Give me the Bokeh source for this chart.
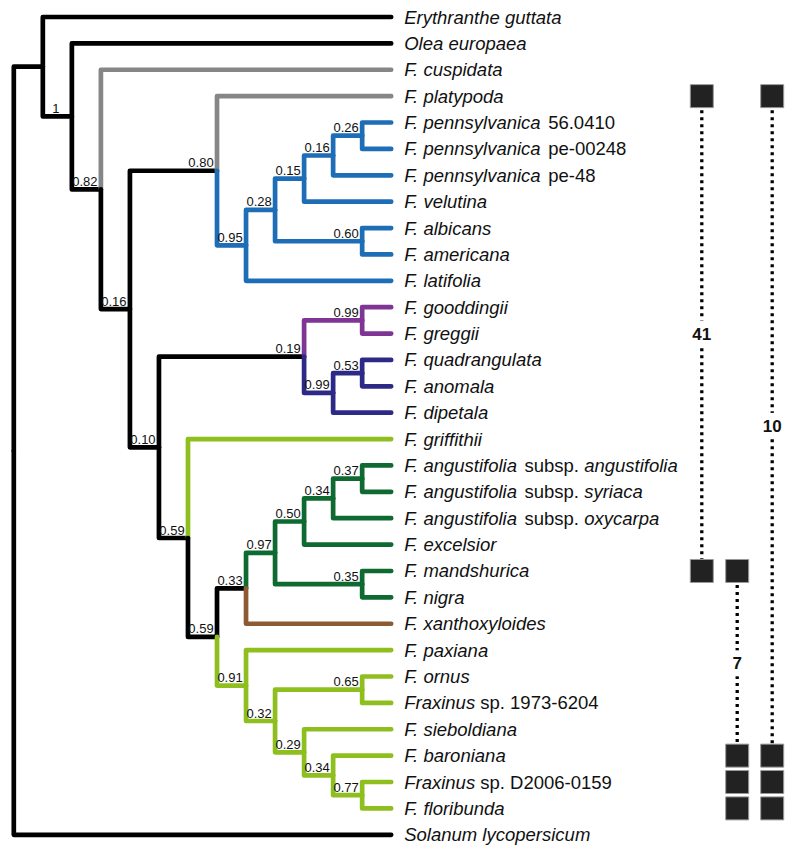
from bokeh.plotting import figure
from bokeh.models import Range1d, ColumnDataSource
from bokeh.embed import file_html
from bokeh.resources import INLINE
from bokeh.core.properties import value

# ---------------- data ----------------
leaf_labels = [
    [("Erythranthe guttata", True)],
    [("Olea europaea", True)],
    [("F. cuspidata", True)],
    [("F. platypoda", True)],
    [("F. pennsylvanica", True), (" 56.0410", False)],
    [("F. pennsylvanica", True), (" pe-00248", False)],
    [("F. pennsylvanica", True), (" pe-48", False)],
    [("F. velutina", True)],
    [("F. albicans", True)],
    [("F. americana", True)],
    [("F. latifolia", True)],
    [("F. gooddingii", True)],
    [("F. greggii", True)],
    [("F. quadrangulata", True)],
    [("F. anomala", True)],
    [("F. dipetala", True)],
    [("F. griffithii", True)],
    [("F. angustifolia", True), (" subsp. ", False), ("angustifolia", True)],
    [("F. angustifolia", True), (" subsp. ", False), ("syriaca", True)],
    [("F. angustifolia", True), (" subsp. ", False), ("oxycarpa", True)],
    [("F. excelsior", True)],
    [("F. mandshurica", True)],
    [("F. nigra", True)],
    [("F. xanthoxyloides", True)],
    [("F. paxiana", True)],
    [("F. ornus", True)],
    [("Fraxinus", True), (" sp. 1973-6204", False)],
    [("F. sieboldiana", True)],
    [("F. baroniana", True)],
    [("Fraxinus", True), (" sp. D2006-0159", False)],
    [("F. floribunda", True)],
    [("Solanum lycopersicum", True)],
]

# internal nodes: (name, first child, second child, support); ints are leaf indices
internal_nodes = [
    ("root", "A", 31, None),
    ("A", 0, "B", None),
    ("B", 1, "C", "1"),
    ("C", 2, "D", "0.82"),
    ("D", "E", "F", "0.16"),
    ("E", 3, "G", "0.80"),
    ("G", "H", 10, "0.95"),
    ("H", "I", "J", "0.28"),
    ("I", "K", 7, "0.15"),
    ("K", "L", 6, "0.16"),
    ("L", 4, 5, "0.26"),
    ("J", 8, 9, "0.60"),
    ("F", "M", "N", "0.10"),
    ("M", "O", "P", "0.19"),
    ("O", 11, 12, "0.99"),
    ("P", "Q", 15, "0.99"),
    ("Q", 13, 14, "0.53"),
    ("N", 16, "R", "0.59"),
    ("R", "S", "T", "0.59"),
    ("S", "U", 23, "0.33"),
    ("U", "V", "W", "0.97"),
    ("V", "X", 20, "0.50"),
    ("X", "Y", 19, "0.34"),
    ("Y", 17, 18, "0.37"),
    ("W", 21, 22, "0.35"),
    ("T", 24, "Z", "0.91"),
    ("Z", "AA", "BB", "0.32"),
    ("AA", 25, 26, "0.65"),
    ("BB", 27, "CC", "0.29"),
    ("CC", 28, "DD", "0.34"),
    ("DD", 29, 30, "0.77"),
]

BLACK = "#000000"
GRAY = "#868686"
BLUE = "#1e6db7"
PURPLE = "#7e3594"
INDIGO = "#2c2a86"
LTGREEN = "#8fbe1f"
DKGREEN = "#0f6a31"
BROWN = "#8c5a33"

clade_colors = {
    2: GRAY, 3: GRAY, "G": BLUE, "O": PURPLE, "P": INDIGO,
    16: LTGREEN, "U": DKGREEN, 23: BROWN, "T": LTGREEN,
}

# character-state bars
count_labels = ["41", "7", "10"]
bar_from = [3, 21, 3]
bar_to = [21, 28, 28]
bar_squares = [[3, 21], [21, 28, 29, 30], [3, 28, 29, 30]]

# ---------------- layout ----------------
W, H = 792, 850
PX_X = 29.03          # px per tree level
PX_Y = 26.38          # px per leaf row
ROOT_PX = 13.3
TOP_PX = 16.5
COL_PX = [701.3, 736.7, 771.7]
LEAF_FS = 18.5
SUP_FS = 13

children = {n: (a, b) for n, a, b, s in internal_nodes}
parent = {}
for n, a, b, s in internal_nodes:
    parent[a] = n
    parent[b] = n

height = {}
ypos = {}


def calc(n):
    if isinstance(n, int):
        height[n] = 0
        ypos[n] = float(n)
        return
    a, b = children[n]
    calc(a)
    calc(b)
    height[n] = 1 + max(height[a], height[b])
    ypos[n] = (ypos[a] + ypos[b]) / 2.0


calc("root")
MAXH = height["root"]
xpos = {n: MAXH - h for n, h in height.items()}

color = {}
order = []


def walk(n, col):
    col = clade_colors.get(n, col)
    color[n] = col
    order.append(n)
    if not isinstance(n, int):
        for c in children[n]:
            walk(c, col)


walk("root", BLACK)

xs, ys, cs = [], [], []
for n in order:
    if n == "root":
        continue
    pn = parent[n]
    xs.append([xpos[pn], xpos[pn], xpos[n]])
    ys.append([ypos[pn], ypos[n], ypos[n]])
    cs.append(color[n])

x0 = -ROOT_PX / PX_X
y0 = -TOP_PX / PX_Y
p = figure(width=W, height=H,
           x_range=Range1d(x0, x0 + W / PX_X),
           y_range=Range1d(y0 + H / PX_Y, y0),
           output_backend="svg", toolbar_location=None,
           x_axis_location=None, y_axis_location=None,
           min_border=0)
p.grid.visible = False
p.outline_line_color = None
p.background_fill_color = "white"
p.border_fill_color = "white"

p.multi_line(xs=xs, ys=ys, line_color=cs, line_width=4.7,
             line_join="round", line_cap="round")

# support values
sx, sy, st = [], [], []
for n, a, b, s in internal_nodes:
    if s is not None:
        sx.append(xpos[n]); sy.append(ypos[n]); st.append(s)
p.text(x=sx, y=sy, text=st, text_font=value("Liberation Sans"),
       text_font_size=f"{SUP_FS}px", text_align="center",
       text_baseline="middle", x_offset=-16, y_offset=-8,
       text_color="#111111")

# leaf labels with mixed italic / upright segments
WID = {' ': 278, '.': 278, '-': 333}
for d in "0123456789":
    WID[d] = 556
WID.update(dict(a=556, b=556, c=500, d=556, e=556, f=278, g=556, h=556, i=222,
                j=222, k=500, l=222, m=833, n=556, o=556, p=556, q=556, r=333,
                s=500, t=278, u=556, v=500, w=722, x=500, y=500, z=500,
                E=667, O=778, F=611, S=667, D=722))


def twidth(t):
    return sum(WID.get(ch, 556) for ch in t) / 1000.0 * LEAF_FS


seg = {True: dict(x=[], y=[], t=[], o=[]), False: dict(x=[], y=[], t=[], o=[])}
for i, parts in enumerate(leaf_labels):
    off = 13.0
    for txt, it in parts:
        lead = len(txt) - len(txt.lstrip(" "))
        core = txt.strip(" ")
        off += twidth(" " * lead)
        d = seg[it]
        d["x"].append(float(MAXH)); d["y"].append(float(i))
        d["t"].append(core); d["o"].append(off)
        off += twidth(txt[lead:])
for it in (True, False):
    d = seg[it]
    src = ColumnDataSource(dict(x=d["x"], y=d["y"], t=d["t"], o=d["o"]))
    p.text(x="x", y="y", text="t", x_offset="o", source=src,
           text_font=value("Liberation Sans"), text_font_size=f"{LEAF_FS}px",
           text_font_style="italic" if it else "normal",
           text_baseline="middle", text_align="left", text_color="#111111")

# character-state columns
for k in range(len(count_labels)):
    cx = (COL_PX[k] - ROOT_PX) / PX_X
    p.segment(x0=[cx], y0=[bar_from[k]], x1=[cx], y1=[bar_to[k]],
              line_color="black", line_width=3.3, line_dash="3 4",
              line_cap="butt")
    ym = (bar_from[k] + bar_to[k]) / 2.0
    p.rect(x=[cx], y=[ym], width=22, height=26, width_units="screen",
           height_units="screen", fill_color="white", line_color=None)
    p.text(x=[cx], y=[ym], text=[count_labels[k]],
           text_font=value("Liberation Sans"), text_font_size="17px",
           text_font_style="bold", text_align="center",
           text_baseline="middle", text_color="#111111")
    p.rect(x=[cx] * len(bar_squares[k]), y=bar_squares[k], width=23, height=23,
           width_units="screen", height_units="screen",
           fill_color="#222222", line_color="#9a9a9a", line_width=1)

open("out.html", "w").write(file_html(p, INLINE))
